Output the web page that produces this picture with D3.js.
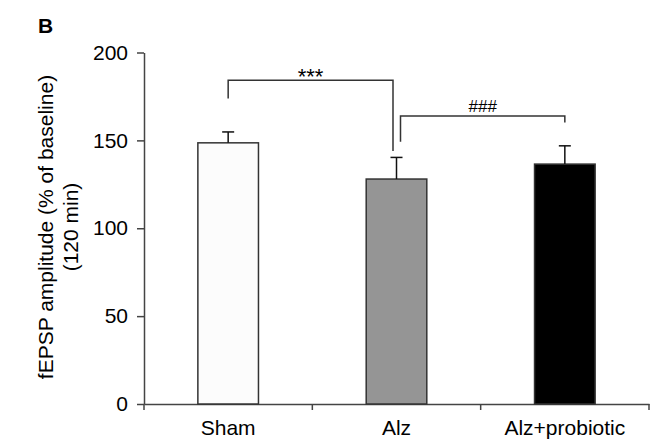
<!DOCTYPE html>
<html>
<head>
<meta charset="utf-8">
<script src="https://cdn.jsdelivr.net/npm/d3@7"></script>
<style>
  body { margin: 0; background: #fff; }
  svg { font-family: "Liberation Sans", Arial, sans-serif; }
</style>
</head>
<body>
<script>
var groups = ["Sham", "Alz", "Alz+probiotic"],
    means = [148.6, 128, 136.5],
    sems = [6.2, 12.3, 10.4],
    fills = ["#fcfcfc", "#959595", "#000000"],
    yTicks = [0, 50, 100, 150, 200];

// significance brackets, heights in y units
var brackets = [
  { a: "Sham", b: "Alz", top: 184.2, ya: 173.8, yb: 144, da: 0, db: -3.5, label: "***", size: 22, dy: 3.5 },
  { a: "Alz", b: "Alz+probiotic", top: 163.8, ya: 149.2, yb: 160.2, da: 4, db: 0, label: "###", size: 17, dy: -4 }
];

var width = 657, height = 440;

var svg = d3.select("body").append("svg")
    .attr("width", width)
    .attr("height", height);

var x = d3.scaleBand()
    .domain(groups)
    .range([144, 649])
    .paddingInner(0.64)
    .paddingOuter(0.32);

var y = d3.scaleLinear()
    .domain([0, 200])
    .range([404, 52.5]);

var axisColor = "#444";

// y axis
var yAxis = svg.append("g")
    .attr("transform", "translate(144,0)")
    .call(d3.axisLeft(y).tickValues(yTicks).tickSize(7).tickPadding(9).tickSizeOuter(0));
yAxis.selectAll("path, line").attr("stroke", axisColor).attr("stroke-width", 1.5);
yAxis.selectAll("text").attr("font-size", 21).attr("fill", "#000")
    .attr("font-family", "Liberation Sans, Arial, sans-serif");

// x axis
var xAxis = svg.append("g")
    .attr("transform", "translate(0,404)")
    .call(d3.axisBottom(x).tickSize(0).tickPadding(16).tickSizeOuter(0));
xAxis.select("path").attr("stroke", axisColor).attr("stroke-width", 1.5);
xAxis.selectAll("text").attr("font-size", 21).attr("fill", "#000")
    .attr("font-family", "Liberation Sans, Arial, sans-serif");

var bounds = groups.map(function(g) { return x(g) - x.step() * x.paddingInner() / 2; });
bounds.push(x.range()[1]);
xAxis.selectAll(".bound").data(bounds).enter().append("line")
    .attr("class", "bound")
    .attr("x1", function(d) { return d; })
    .attr("x2", function(d) { return d; })
    .attr("y1", 0).attr("y2", 6)
    .attr("stroke", axisColor).attr("stroke-width", 1.5);

// bars
svg.selectAll("rect.bar").data(groups).enter().append("rect")
    .attr("class", "bar")
    .attr("x", function(d) { return x(d); })
    .attr("y", function(d, i) { return y(means[i]); })
    .attr("width", x.bandwidth())
    .attr("height", function(d, i) { return y(0) - y(means[i]); })
    .attr("fill", function(d, i) { return fills[i]; })
    .attr("stroke", "#333")
    .attr("stroke-width", 1.5);

// error bars (upper only)
var cx = function(g) { return x(g) + x.bandwidth() / 2; };
groups.forEach(function(g, i) {
  svg.append("line")
      .attr("x1", cx(g)).attr("x2", cx(g))
      .attr("y1", y(means[i])).attr("y2", y(means[i] + sems[i]))
      .attr("stroke", "#111").attr("stroke-width", 1.5);
  svg.append("line")
      .attr("x1", cx(g) - 6).attr("x2", cx(g) + 6)
      .attr("y1", y(means[i] + sems[i])).attr("y2", y(means[i] + sems[i]))
      .attr("stroke", "#111").attr("stroke-width", 1.5);
});

// brackets
brackets.forEach(function(b) {
  var xa = cx(b.a) + b.da, xb = cx(b.b) + b.db;
  svg.append("path")
      .attr("d", "M" + xa + "," + y(b.ya) + "V" + y(b.top) + "H" + xb + "V" + y(b.yb))
      .attr("fill", "none")
      .attr("stroke", "#333")
      .attr("stroke-width", 1.5);
  svg.append("text")
      .attr("x", (xa + xb) / 2)
      .attr("y", y(b.top) + b.dy)
      .attr("text-anchor", "middle")
      .attr("font-size", b.size)
      .text(b.label);
});

// y label
var yl = svg.append("text")
    .attr("transform", "translate(0,227) rotate(-90)")
    .attr("text-anchor", "middle")
    .attr("font-size", 21);
yl.append("tspan").attr("x", 0).attr("y", 53).text("fEPSP amplitude (% of baseline)");
yl.append("tspan").attr("x", 0).attr("y", 78).text("(120 min)");

// panel letter
svg.append("text")
    .attr("x", 38).attr("y", 33)
    .attr("font-size", 21)
    .attr("font-weight", "bold")
    .text("B");
</script>
</body>
</html>
